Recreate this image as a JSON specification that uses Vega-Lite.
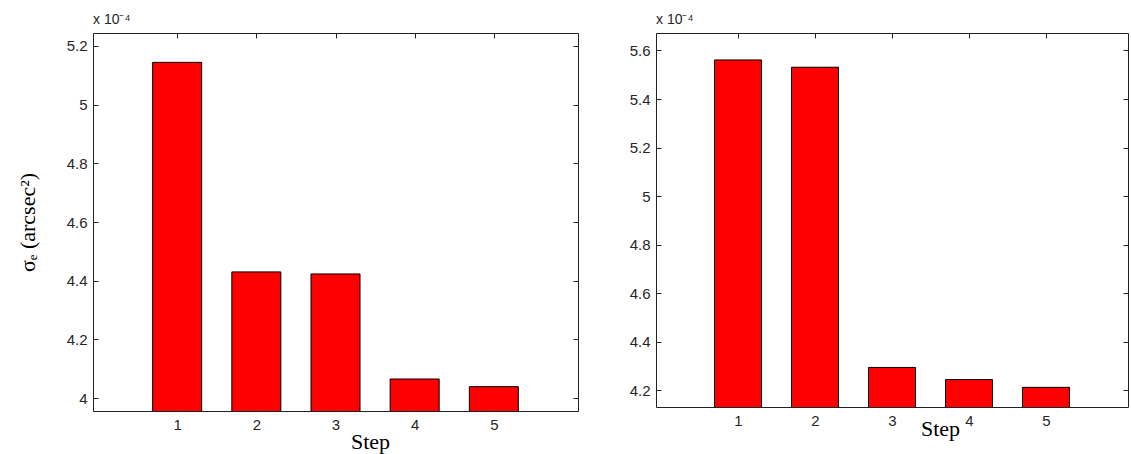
{
  "$schema": "https://vega.github.io/schema/vega-lite/v6.json",
  "background": "white",
  "padding": {"left": 15, "top": 12, "right": 0, "bottom": 0},
  "spacing": 49,
  "config": {
    "view": {"stroke": "#222222", "strokeWidth": 1},
    "axis": {
      "labelFont": "Liberation Sans",
      "labelFontSize": 15,
      "labelColor": "#262626",
      "tickColor": "#262626",
      "tickSize": -5,
      "labelPadding": 11,
      "domain": false,
      "grid": false,
      "titleFont": "Liberation Serif",
      "titleFontSize": 22,
      "titleFontWeight": "normal",
      "titleColor": "#000000"
    },
    "title": {"font": "Liberation Sans", "fontSize": 14, "fontWeight": "normal", "color": "#262626", "anchor": "start", "frame": "group", "offset": 6}
  },
  "datasets": {
    "left": [
      {"step": 1, "sigma": 5.144},
      {"step": 2, "sigma": 4.43},
      {"step": 3, "sigma": 4.423},
      {"step": 4, "sigma": 4.065},
      {"step": 5, "sigma": 4.039}
    ],
    "right": [
      {"step": 1, "sigma": 5.561},
      {"step": 2, "sigma": 5.531},
      {"step": 3, "sigma": 4.294},
      {"step": 4, "sigma": 4.244},
      {"step": 5, "sigma": 4.212}
    ]
  },
  "hconcat": [
    {
      "width": 485,
      "height": 378,
      "title": {"text": "x 10⁻⁴"},
      "data": {"name": "left"},
      "layer": [
        {
          "mark": {"type": "bar", "color": "#FF0000", "stroke": "#000000", "strokeWidth": 1, "width": 49, "clip": true},
          "encoding": {
            "x": {"field": "step", "type": "quantitative", "scale": {"domain": [0, 6], "nice": false},
                  "axis": {"values": [1, 2, 3, 4, 5], "format": "d", "title": "Step", "titleX": 277, "titleY": 37, "titleBaseline": "alphabetic"}},
            "y": {"field": "sigma", "type": "quantitative", "scale": {"domain": [3.956, 5.244], "zero": false, "nice": false},
                  "axis": {"values": [4, 4.2, 4.4, 4.6, 4.8, 5, 5.2], "format": "~g", "title": "σₑ (arcsec²)", "titleX": -59, "titleY": 189, "titleAngle": -90, "titleBaseline": "alphabetic", "titleAlign": "center"}}
          }
        },
        {
          "mark": {"type": "bar", "opacity": 0, "width": 1},
          "encoding": {
            "x": {"field": "step", "type": "quantitative", "scale": {"domain": [0, 6], "nice": false},
                  "axis": {"orient": "top", "values": [1, 2, 3, 4, 5], "labels": false, "title": null}},
            "y": {"field": "sigma", "type": "quantitative", "scale": {"domain": [3.956, 5.244], "zero": false, "nice": false},
                  "axis": {"orient": "right", "values": [4, 4.2, 4.4, 4.6, 4.8, 5, 5.2], "labels": false, "title": null}}
          }
        }
      ],
      "resolve": {"axis": {"x": "independent", "y": "independent"}}
    },
    {
      "width": 472,
      "height": 374,
      "title": {"text": "x 10⁻⁴"},
      "data": {"name": "right"},
      "layer": [
        {
          "mark": {"type": "bar", "color": "#FF0000", "stroke": "#000000", "strokeWidth": 1, "width": 47, "clip": true},
          "encoding": {
            "x": {"field": "step", "type": "quantitative", "scale": {"domain": [0, 6], "nice": false},
                  "axis": {"values": [1, 2, 3, 4, 5], "format": "d", "title": "Step", "titleX": 284, "titleY": 28, "titleBaseline": "alphabetic"}},
            "y": {"field": "sigma", "type": "quantitative", "scale": {"domain": [4.131, 5.672], "zero": false, "nice": false},
                  "axis": {"values": [4.2, 4.4, 4.6, 4.8, 5, 5.2, 5.4, 5.6], "format": "~g", "title": null}}
          }
        },
        {
          "mark": {"type": "bar", "opacity": 0, "width": 1},
          "encoding": {
            "x": {"field": "step", "type": "quantitative", "scale": {"domain": [0, 6], "nice": false},
                  "axis": {"orient": "top", "values": [1, 2, 3, 4, 5], "labels": false, "title": null}},
            "y": {"field": "sigma", "type": "quantitative", "scale": {"domain": [4.131, 5.672], "zero": false, "nice": false},
                  "axis": {"orient": "right", "values": [4.2, 4.4, 4.6, 4.8, 5, 5.2, 5.4, 5.6], "labels": false, "title": null}}
          }
        }
      ],
      "resolve": {"axis": {"x": "independent", "y": "independent"}}
    }
  ]
}
